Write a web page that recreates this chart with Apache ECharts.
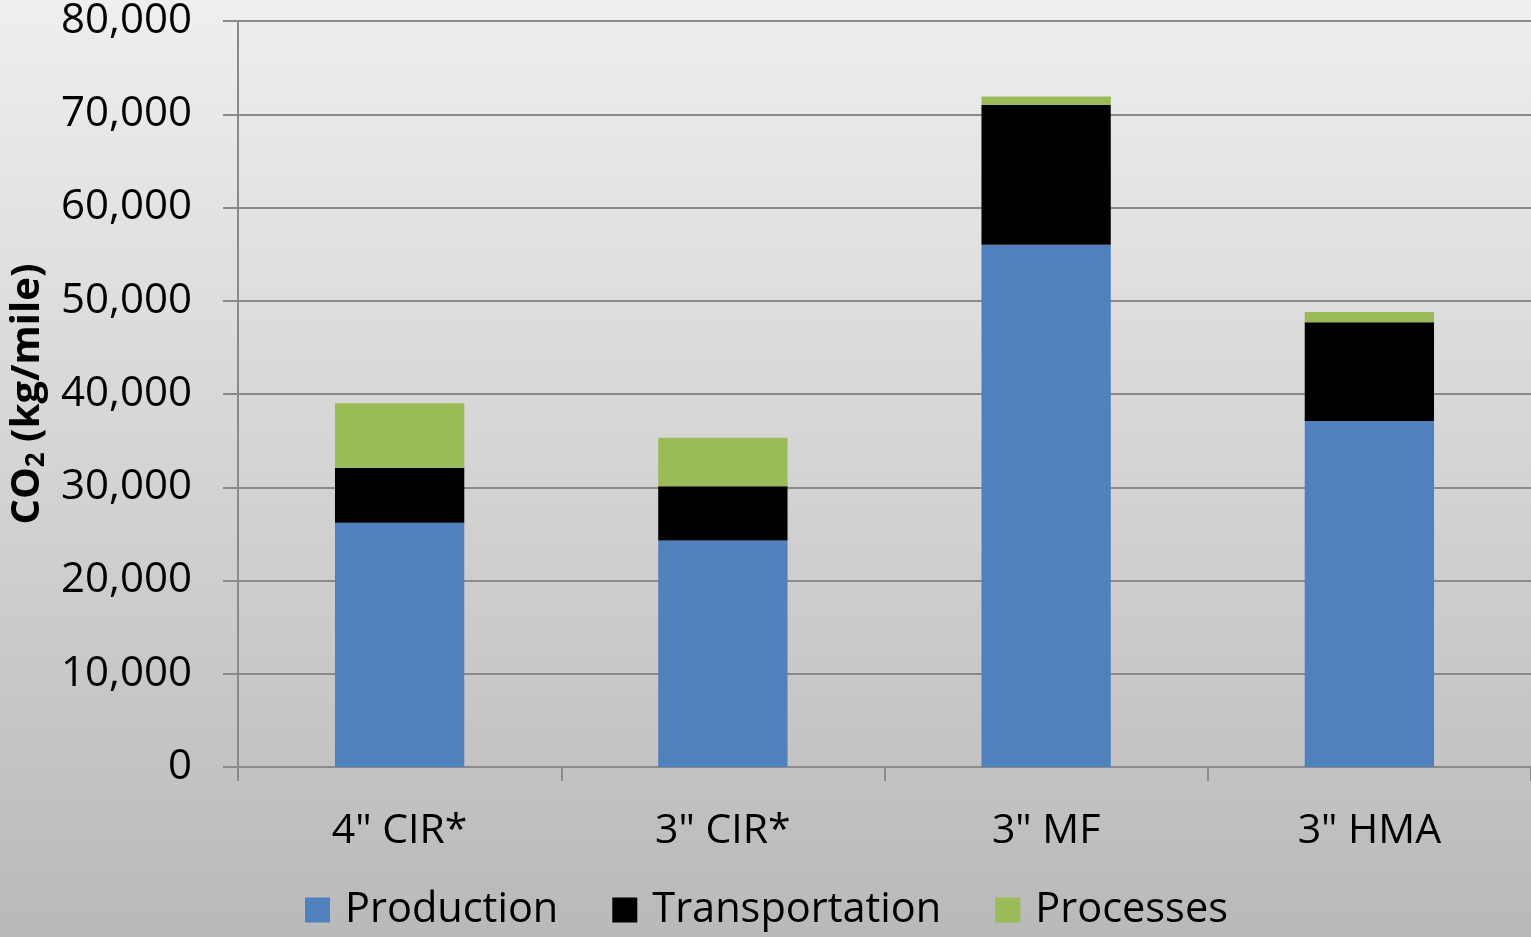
<!DOCTYPE html>
<html>
<head>
<meta charset="utf-8">
<script src="https://cdn.jsdelivr.net/npm/echarts@6/dist/echarts.min.js"></script>
<style>
  html, body { margin: 0; padding: 0; }
  #chart { width: 1531px; height: 937px; }
</style>
</head>
<body>
<div id="chart"></div>
<script>
// pavement options and their CO2 components (kg/mile)
var categories = ['4" CIR*', '3" CIR*', '3" MF', '3" HMA'];
var production = [26200, 24300, 56000, 37100];
var transportation = [5900, 5800, 15000, 10600];
var processes = [6900, 5200, 900, 1100];
var yTicks = [0, 10000, 20000, 30000, 40000, 50000, 60000, 70000, 80000];

var chart = echarts.init(document.getElementById('chart'));

var font = '"Open Sans", sans-serif';

var option = {
    backgroundColor: {
        type: 'linear', x: 0, y: 0, x2: 0, y2: 1,
        colorStops: [
            {offset: 0, color: '#efefef'},
            {offset: 1, color: '#b9b9b9'}
        ]
    },
    textStyle: {fontFamily: font},
    grid: {left: 238, right: 0, top: 21, bottom: 170, outerBoundsMode: 'none'},
    legend: {
        left: 305,
        bottom: 6,
        padding: 0,
        itemWidth: 25,
        itemHeight: 25,
        itemGap: 54,
        icon: 'rect',
        textStyle: {fontSize: 41.5, color: '#000', fontFamily: font, padding: [0, 0, 0, 10]},
        data: ['Production', 'Transportation', 'Processes']
    },
    xAxis: {
        type: 'category',
        data: categories,
        axisLine: {lineStyle: {color: '#8a8a8a', width: 2}},
        axisTick: {show: true, length: 14, lineStyle: {color: '#8a8a8a', width: 2}},
        axisLabel: {fontSize: 41, color: '#000', margin: 44, fontFamily: font}
    },
    yAxis: {
        type: 'value',
        min: yTicks[0],
        max: yTicks[yTicks.length - 1],
        interval: yTicks[1] - yTicks[0],
        name: '{b|CO}{s|2}{b| (kg/mile)}',
        nameLocation: 'middle',
        nameGap: 188,
        nameTextStyle: {
            rich: {
                b: {fontSize: 40, fontWeight: 'bold', color: '#000', fontFamily: font},
                s: {fontSize: 26, fontWeight: 'bold', color: '#000', fontFamily: font, padding: [18, 0, 0, 0]}
            }
        },
        axisLine: {show: true, lineStyle: {color: '#8a8a8a', width: 2}},
        axisTick: {show: true, length: 15, lineStyle: {color: '#8a8a8a', width: 2}},
        splitLine: {lineStyle: {color: '#8a8a8a', width: 2}},
        axisLabel: {
            fontSize: 42, color: '#000', margin: 46, fontFamily: font,
            formatter: function (v) { return v.toLocaleString('en-US'); }
        }
    },
    series: [
        {
            name: 'Production', type: 'bar', stack: 'co2', barWidth: '40%',
            itemStyle: {color: '#4f81bd'},
            data: production
        },
        {
            name: 'Transportation', type: 'bar', stack: 'co2', barWidth: '40%',
            itemStyle: {color: '#000000'},
            data: transportation
        },
        {
            name: 'Processes', type: 'bar', stack: 'co2', barWidth: '40%',
            itemStyle: {color: '#9bbb59'},
            data: processes
        }
    ]
};

chart.setOption(option);
</script>
</body>
</html>
